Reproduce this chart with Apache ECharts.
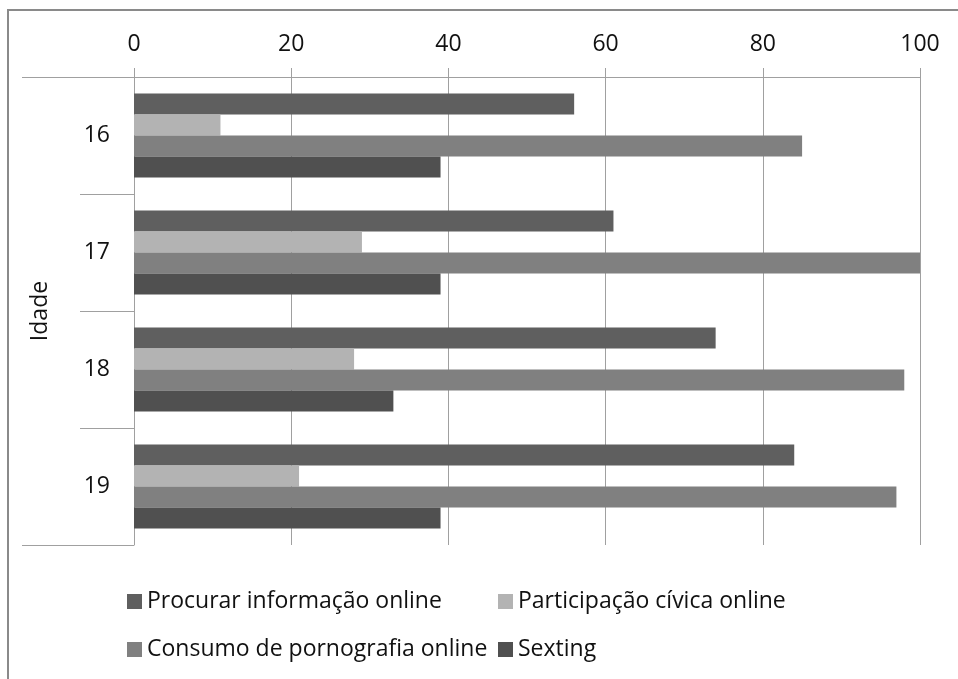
<!DOCTYPE html>
<html>
<head>
<meta charset="utf-8">
<script src="https://cdn.jsdelivr.net/npm/echarts@6/dist/echarts.min.js"></script>
<style>
  html, body { margin: 0; padding: 0; background: #fff; }
  #chart { width: 958px; height: 679px; }
</style>
</head>
<body>
<div id="chart"></div>
<script>
// Age groups (rows) and the share of each online activity per age
const ages = ['16', '17', '18', '19'];
const procurarInformacao = [56, 61, 74, 84];
const participacaoCivica = [11, 29, 28, 21];
const consumoPornografia = [85, 100, 98, 97];
const sexting = [39, 39, 33, 39];
const valueTicks = [0, 20, 40, 60, 80, 100];

const seriesNames = [
  'Procurar informação online',
  'Participação cívica online',
  'Consumo de pornografia online',
  'Sexting'
];
const seriesColors = ['#5f5f5f', '#b3b3b3', '#808080', '#505050'];
const seriesData = [procurarInformacao, participacaoCivica, consumoPornografia, sexting];

const FONT = '"Open Sans", "DejaVu Sans", sans-serif';
const TEXT = '#111';
const LINE = '#a0a0a0';

const chart = echarts.init(document.getElementById('chart'), null, { renderer: 'canvas' });

const legendText = { fontFamily: FONT, fontSize: 23, color: TEXT };
const legendBase = {
  orient: 'vertical',
  top: 585,
  itemWidth: 15,
  itemHeight: 15,
  itemGap: 25,
  icon: 'rect',
  textStyle: legendText
};

chart.setOption({
  animation: false,
  backgroundColor: '#fff',
  grid: { left: 134, top: 77, right: 38, bottom: 134, containLabel: false },
  xAxis: {
    type: 'value',
    position: 'top',
    min: valueTicks[0],
    max: valueTicks[valueTicks.length - 1],
    interval: valueTicks[1] - valueTicks[0],
    axisLine: { show: true, lineStyle: { color: LINE, width: 1 } },
    axisTick: { show: true, length: 9, lineStyle: { color: LINE, width: 1 } },
    axisLabel: { margin: 21, fontFamily: FONT, fontSize: 23, color: TEXT },
    splitLine: { show: true, lineStyle: { color: LINE, width: 1 } }
  },
  yAxis: {
    type: 'category',
    data: ages,
    inverse: true,
    name: 'Idade',
    nameLocation: 'middle',
    nameRotate: 90,
    nameGap: 82,
    nameTextStyle: { fontFamily: FONT, fontSize: 23, color: TEXT },
    axisLine: { show: true, lineStyle: { color: LINE, width: 1 } },
    axisTick: { show: true, length: 54, lineStyle: { color: LINE, width: 1 } },
    axisLabel: { margin: 24, fontFamily: FONT, fontSize: 23, color: TEXT },
    splitLine: { show: false }
  },
  legend: [
    Object.assign({ data: [seriesNames[0], seriesNames[2]], left: 122 }, legendBase),
    Object.assign({ data: [seriesNames[1], seriesNames[3]], left: 493 }, legendBase)
  ],
  series: seriesNames.map((name, i) => ({
    type: 'bar',
    name: name,
    data: seriesData[i],
    barGap: '0%',
    barCategoryGap: '28%',
    itemStyle: { color: seriesColors[i] }
  })),
  graphic: [
    // outer frame of the chart area
    {
      type: 'rect',
      shape: { x: 8, y: 10, width: 990, height: 700 },
      style: { fill: 'none', stroke: '#8a8a8a', lineWidth: 2 },
      silent: true
    },
    // outer category boundaries reach further left than the inner ones
    {
      type: 'line',
      shape: { x1: 22, y1: 77.5, x2: 134, y2: 77.5 },
      style: { stroke: LINE, lineWidth: 1 },
      silent: true
    },
    {
      type: 'line',
      shape: { x1: 22, y1: 545.5, x2: 134, y2: 545.5 },
      style: { stroke: LINE, lineWidth: 1 },
      silent: true
    }
  ]
});
</script>
</body>
</html>
